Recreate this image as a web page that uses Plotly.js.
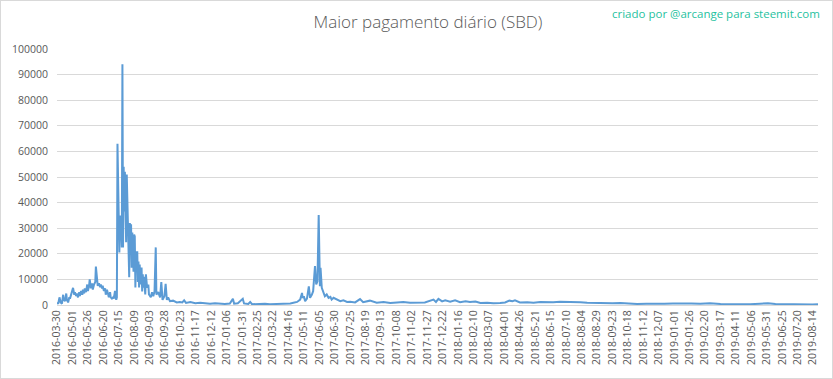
<!DOCTYPE html>
<html>
<head>
<meta charset="utf-8">
<script src="https://cdn.plot.ly/plotly-3.0.1.min.js"></script>
<style>
  html, body { margin: 0; padding: 0; background: #fff; }
  #wrap { position: relative; width: 833px; height: 379px; }
  #chart { width: 833px; height: 379px; }
  #frame { position: absolute; left: 0; top: 0; width: 833px; height: 379px; box-sizing: border-box; border: 1px solid #d9d9d9; pointer-events: none; }
</style>
</head>
<body>
<div id="wrap"><div id="chart"></div><div id="frame"></div></div>
<script>
// Category labels shown on the x axis (every 25th day of the daily series)
const tickLabels = [
  "2016-03-30","2016-05-01","2016-05-26","2016-06-20","2016-07-15","2016-08-09","2016-09-03","2016-09-28",
  "2016-10-23","2016-11-17","2016-12-12","2017-01-06","2017-01-31","2017-02-25","2017-03-22","2017-04-16",
  "2017-05-11","2017-06-05","2017-06-30","2017-07-25","2017-08-19","2017-09-13","2017-10-08","2017-11-02",
  "2017-11-27","2017-12-22","2018-01-16","2018-02-10","2018-03-07","2018-04-01","2018-04-26","2018-05-21",
  "2018-06-15","2018-07-10","2018-08-04","2018-08-29","2018-09-23","2018-10-18","2018-11-12","2018-12-07",
  "2019-01-01","2019-01-26","2019-02-20","2019-03-17","2019-04-11","2019-05-06","2019-05-31","2019-06-25",
  "2019-07-20","2019-08-14"
];
const labelEvery = 25;
const seriesLength = 1234;

// Position of each reading in the daily series (day number, 0 = 2016-03-30)
const seriesDay = [
  0,2,4,6,8,10,11,13,15,16,18,20,21,24,26,28,29,31,32,34,36,37,39,41,42,44,45,47,49,50,
  52,53,55,57,58,60,62,63,65,66,68,70,71,73,74,76,78,79,81,83,84,86,87,89,91,92,94,95,96,97,
  98,101,102,104,105,106,107,108,109,110,112,113,114,115,116,117,118,119,120,121,122,124,125,126,127,128,129,130,131,132,
  133,134,135,137,138,139,140,141,143,144,146,148,149,152,154,156,158,160,161,164,167,169,171,174,176,178,180,183,188,194,
  199,203,206,209,216,224,232,240,248,256,264,272,280,285,287,293,301,303,310,313,316,323,329,337,345,353,361,370,378,383,
  389,394,397,398,400,402,405,408,410,413,415,418,420,422,424,426,427,429,432,434,437,440,443,445,448,453,459,464,470,475,
  483,491,496,507,518,529,540,551,561,572,588,596,610,614,618,624,629,637,645,653,662,669,678,686,697,707,718,726,733,738,
  742,750,762,772,783,794,804,815,827,836,848,859,872,885,900,913,925,940,955,969,984,998,1013,1028,1042,1058,1075,1091,1107,1123,
  1139,1152,1164,1180,1196,1212,1224,1233
];

// Highest daily payout (SBD)
const maxPayout = [
  1000,500,3000,1000,500,4000,2000,1500,4500,2000,1000,3000,2500,4500,6700,4000,5000,3500,4500,3000,5000,3500,5500,4000,6000,4500,6500,5000,8000,5500,
  7500,10000,6500,8500,6000,8000,9000,15000,9000,7500,8500,7000,8000,6500,7500,5500,6500,4000,6000,3500,3000,5000,3000,2500,3000,2500,5500,3000,2000,3000,
  63000,20500,35000,30000,22500,94000,22500,54000,36500,52000,24500,51000,38000,23500,21000,10800,32000,27500,31500,14600,28300,13000,27500,26800,6800,21000,14600,21000,9000,17000,
  6800,15800,8000,14600,5300,12000,6800,11000,4100,12000,6800,8000,4100,3000,5000,3400,5300,22500,4100,5000,3000,9000,2000,3400,8300,2000,3000,1500,1700,1000,
  1200,1000,1800,800,1200,700,900,600,500,700,500,400,600,2400,500,700,2400,600,400,1200,300,400,300,500,300,400,300,500,600,900,
  1200,2100,4700,2800,3400,1500,2500,7300,2800,4100,5400,15200,8000,9300,35100,7300,14500,6700,4700,3400,4100,2800,3200,2100,2800,2100,1500,1800,1200,1300,
  1000,2300,1100,1700,900,1200,800,1000,1200,900,800,1000,2100,1200,2400,1400,1800,1300,1800,1100,1500,1200,1400,800,900,700,800,1000,1700,1500,
  1800,1000,1100,900,1200,1000,1100,1300,1200,1400,1100,900,800,900,700,800,600,400,500,400,500,600,700,600,500,700,400,300,400,300,
  500,700,400,300,400,300,200,300
];

const tickVals = tickLabels.map((_, i) => i * labelEvery);
const FONT = '"Open Sans", "Liberation Sans", sans-serif';
const GREY = '#595959';

Plotly.newPlot('chart', [{
  type: 'scatter',
  mode: 'lines',
  x: seriesDay,
  y: maxPayout,
  line: { color: '#5b9bd5', width: 2 },
  hoverinfo: 'none'
}], {
  width: 833,
  height: 379,
  paper_bgcolor: '#ffffff',
  plot_bgcolor: '#ffffff',
  margin: { l: 57, r: 15, t: 49, b: 74, pad: 0 },
  showlegend: false,
  title: {
    text: 'Maior pagamento diário (SBD)',
    font: { family: FONT, size: 17, color: GREY, weight: 300 },
    x: 428 / 833, xanchor: 'center', xref: 'container',
    y: 1 - 22 / 379, yanchor: 'middle', yref: 'container'
  },
  xaxis: {
    type: 'linear',
    range: [0, seriesLength - 1],
    tickvals: tickVals,
    ticktext: tickLabels,
    tickangle: -90,
    tickfont: { family: FONT, size: 10.5, color: GREY },
    showgrid: false,
    zeroline: false,
    showline: true,
    linecolor: '#d9d9d9',
    linewidth: 1,
    ticks: '',
    fixedrange: true
  },
  yaxis: {
    range: [0, 100000],
    dtick: 10000,
    tickformat: 'd',
    tickfont: { family: FONT, size: 10.5, color: GREY },
    gridcolor: '#d9d9d9',
    gridwidth: 1,
    zeroline: false,
    showline: false,
    ticks: '',
    ticklabelstandoff: 8,
    fixedrange: true
  },
  annotations: [{
    text: 'criado por @arcange para steemit.com',
    xref: 'paper', yref: 'paper',
    x: 1.005, xanchor: 'right',
    y: 1.139, yanchor: 'middle',
    showarrow: false,
    font: { family: FONT, size: 11.5, color: '#1fc2a0' }
  }]
}, { displayModeBar: false, staticPlot: true });
</script>
</body>
</html>
